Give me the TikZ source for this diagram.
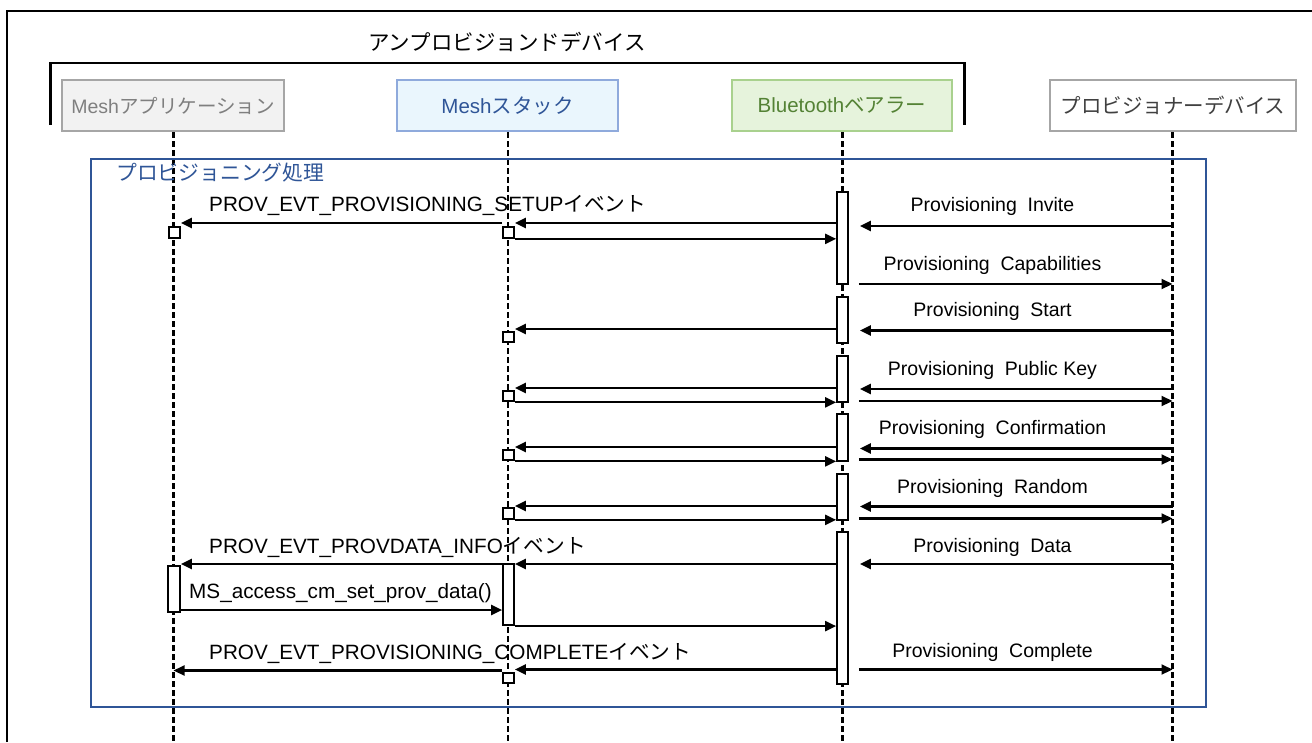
\documentclass[tikz,border=0pt]{standalone}
\usepackage{fontspec}
\setmainfont{Liberation Sans}
\newfontfamily\jp{Noto Sans CJK JP}
\usetikzlibrary{arrows.meta}
\definecolor{appfill}{HTML}{F2F2F2}
\definecolor{appline}{HTML}{A6A6A6}
\definecolor{apptext}{HTML}{7F7F7F}
\definecolor{stkfill}{HTML}{EAF6FD}
\definecolor{stkline}{HTML}{8FAADC}
\definecolor{stktext}{HTML}{2F5597}
\definecolor{btfill}{HTML}{E6F3DC}
\definecolor{btline}{HTML}{A9D18E}
\definecolor{bttext}{HTML}{548235}
\definecolor{provline}{HTML}{A6A6A6}
\definecolor{provtext}{HTML}{404040}
\definecolor{frameblue}{HTML}{2F5597}
\newcommand{\wsp}{\hspace{0.55em}}
\begin{document}
\begin{tikzpicture}[x=1pt,y=-1pt,
  lbl/.style={font=\fontsize{19.5}{23}\selectfont, inner sep=0pt},
  lblw/.style={font=\fontsize{20.7}{24}\selectfont, inner sep=0pt},
  msg/.style={line width=2.1pt, -{Triangle[length=11pt,width=10pt]}},
  tobt/.style={msg, shorten >=11pt},
  frombt/.style={msg, shorten <=10pt},
  life/.style={line width=2.2pt, dash pattern=on 6pt off 3pt},
  bar/.style={draw, fill=white, line width=2.2pt, minimum width=10.5pt, inner sep=0pt},
  sq/.style={draw, fill=white, line width=2.2pt, minimum width=10.5pt, minimum height=10.5pt, inner sep=0pt},
  head/.style={draw, line width=2pt, minimum height=51pt, inner sep=0pt, font=\fontsize{20.5}{24}\selectfont}]
\useasboundingbox (0,0) rectangle (1312,742);
\fill[white] (0,0) rectangle (1312,742);
% outer frame and device bracket
\draw[line width=2.2pt] (7,742) -- (7,11) -- (1312,11);
\draw[line width=2.8pt] (50.5,125) -- (50.5,63) -- (964.5,63) -- (964.5,125);
\node[font=\fontsize{21.5}{25}\selectfont\jp, inner sep=0pt] (title) at (507,42) {アンプロビジョンドデバイス};
% participants
\node[head, fill=appfill, draw=appline, text=apptext, minimum width=222pt, font=\fontsize{19.5}{23}\selectfont] (app) at (173,105.5) {Mesh{\jp アプリケーション}};
\node[head, fill=stkfill, draw=stkline, text=stktext, minimum width=221pt] (stk) at (507.5,105.5) {Mesh{\jp スタック}};
\node[head, fill=btfill, draw=btline, text=bttext, minimum width=220pt] (bt) at (842,105.5) {Bluetooth{\jp ベアラー}};
\node[head, fill=white, draw=provline, text=provtext, minimum width=246pt] (prov) at (1173,105.5) {\jp プロビジョナーデバイス};
% lifelines
\coordinate (append) at (173.5,742);
\coordinate (stkend) at (508,742);
\coordinate (btend) at (842.5,742);
\coordinate (provend) at (1172.5,742);
\draw[life] (app.south -| append) -- (append);
\draw[life] (stk.south -| stkend) -- (stkend);
\draw[life] (bt.south -| btend) -- (btend);
\draw[life] (prov.south -| provend) -- (provend);
% frame
\draw[frameblue, line width=2pt] (90.5,159) rectangle (1206,707);
\node[anchor=west, inner sep=0pt, text=frameblue, font=\fontsize{20.8}{24}\selectfont\jp] (frlbl) at (116,173) {プロビジョニング処理};
% activation bars
\node[bar, minimum height=92pt] (B1) at (842.5,238) {};
\node[bar, minimum height=46pt] (B2) at (842.5,320) {};
\node[bar, minimum height=46pt] (B3) at (842.5,379) {};
\node[bar, minimum height=47pt] (B4) at (842.5,437.5) {};
\node[bar, minimum height=46pt] (B5) at (842.5,497) {};
\node[bar, minimum height=152pt] (B6) at (842.5,608) {};
\node[bar, minimum height=61pt] (SB) at (508.5,594.5) {};
\node[bar, minimum height=46pt, minimum width=11.5pt] (AB) at (174,589) {};
\node[sq] (S1) at (508.5,232.5) {};
\node[sq] (S2) at (508.5,337) {};
\node[sq] (S3) at (508.5,396) {};
\node[sq] (S4) at (508.5,455) {};
\node[sq] (S5) at (508.5,513.5) {};
\node[sq] (S6) at (508.5,678) {};
\node[sq] (A1) at (174.5,232.5) {};
% left messages
\draw[msg] (B1.west |- 0,223) -- (S1.east |- 0,223);
\draw[msg] (S1.west |- 0,223) -- (A1.east |- 0,223);
\draw[msg] (S1.south east) -- (B1.west |- S1.south);
\draw[msg] (B2.west |- 0,329) -- (S2.east |- 0,329);
\draw[msg] (B3.west |- 0,388) -- (S3.east |- 0,388);
\draw[msg] (S3.south east) -- (B3.west |- S3.south);
\draw[msg] (B4.west |- 0,447) -- (S4.east |- 0,447);
\draw[msg] (S4.south east) -- (B4.west |- S4.south);
\draw[msg] (B5.west |- 0,506) -- (S5.east |- 0,506);
\draw[msg] (S5.south east) -- (B5.west |- S5.south);
\draw[msg] (B6.west |- 0,564) -- (SB.east |- 0,564);
\draw[msg] (SB.west |- 0,564) -- (AB.east |- 0,564);
\draw[msg] (AB.east |- 0,610) -- (SB.west |- 0,610);
\draw[msg] (SB.south east) -- (B6.west |- SB.south);
\draw[msg] (B6.west |- 0,669.5) -- (S6.east |- 0,669.5);
\draw[msg] (S6.west |- 0,670.5) -- (append |- 0,670.5);
% right messages
\draw[tobt] (provend |- 0,226) -- (B1.east |- 0,226);
\draw[frombt] (B1.east |- 0,284) -- (provend |- 0,284);
\draw[tobt] (provend |- 0,330.5) -- (B2.east |- 0,330.5);
\draw[tobt] (provend |- 0,389) -- (B3.east |- 0,389);
\draw[frombt] (B3.east |- 0,401) -- (provend |- 0,401);
\draw[tobt] (provend |- 0,448.5) -- (B4.east |- 0,448.5);
\draw[frombt] (B4.east |- 0,459.5) -- (provend |- 0,459.5);
\draw[tobt] (provend |- 0,506.5) -- (B5.east |- 0,506.5);
\draw[frombt] (B5.east |- 0,518.5) -- (provend |- 0,518.5);
\draw[tobt] (provend |- 0,564) -- (B6.east |- 0,564);
\draw[frombt] (B6.east |- 0,669.5) -- (provend |- 0,669.5);
% labels
\node[lblw, anchor=west] (m1) at (209,205) {PROV\_EVT\_PROVISIONING\_SETUP{\jp イベント}};
\node[lblw, anchor=west] (m2) at (209,547) {PROV\_EVT\_PROVDATA\_INFO{\jp イベント}};
\node[lblw] (m3) at (340.5,593) {MS\_access\_cm\_set\_prov\_data()};
\node[lblw, anchor=west] (m4) at (209,653) {PROV\_EVT\_PROVISIONING\_COMPLETE{\jp イベント}};
\node[lbl] (p1) at (992.5,206) {Provisioning\wsp Invite};
\node[lbl] (p2) at (992.5,265) {Provisioning\wsp Capabilities};
\node[lbl] (p3) at (992.5,311) {Provisioning\wsp Start};
\node[lbl] (p4) at (992.5,370) {Provisioning\wsp Public Key};
\node[lbl] (p5) at (992.5,429) {Provisioning\wsp Confirmation};
\node[lbl] (p6) at (992.5,488) {Provisioning\wsp Random};
\node[lbl] (p7) at (992.5,547) {Provisioning\wsp Data};
\node[lbl] (p8) at (992.5,652) {Provisioning\wsp Complete};
\end{tikzpicture}
\end{document}
